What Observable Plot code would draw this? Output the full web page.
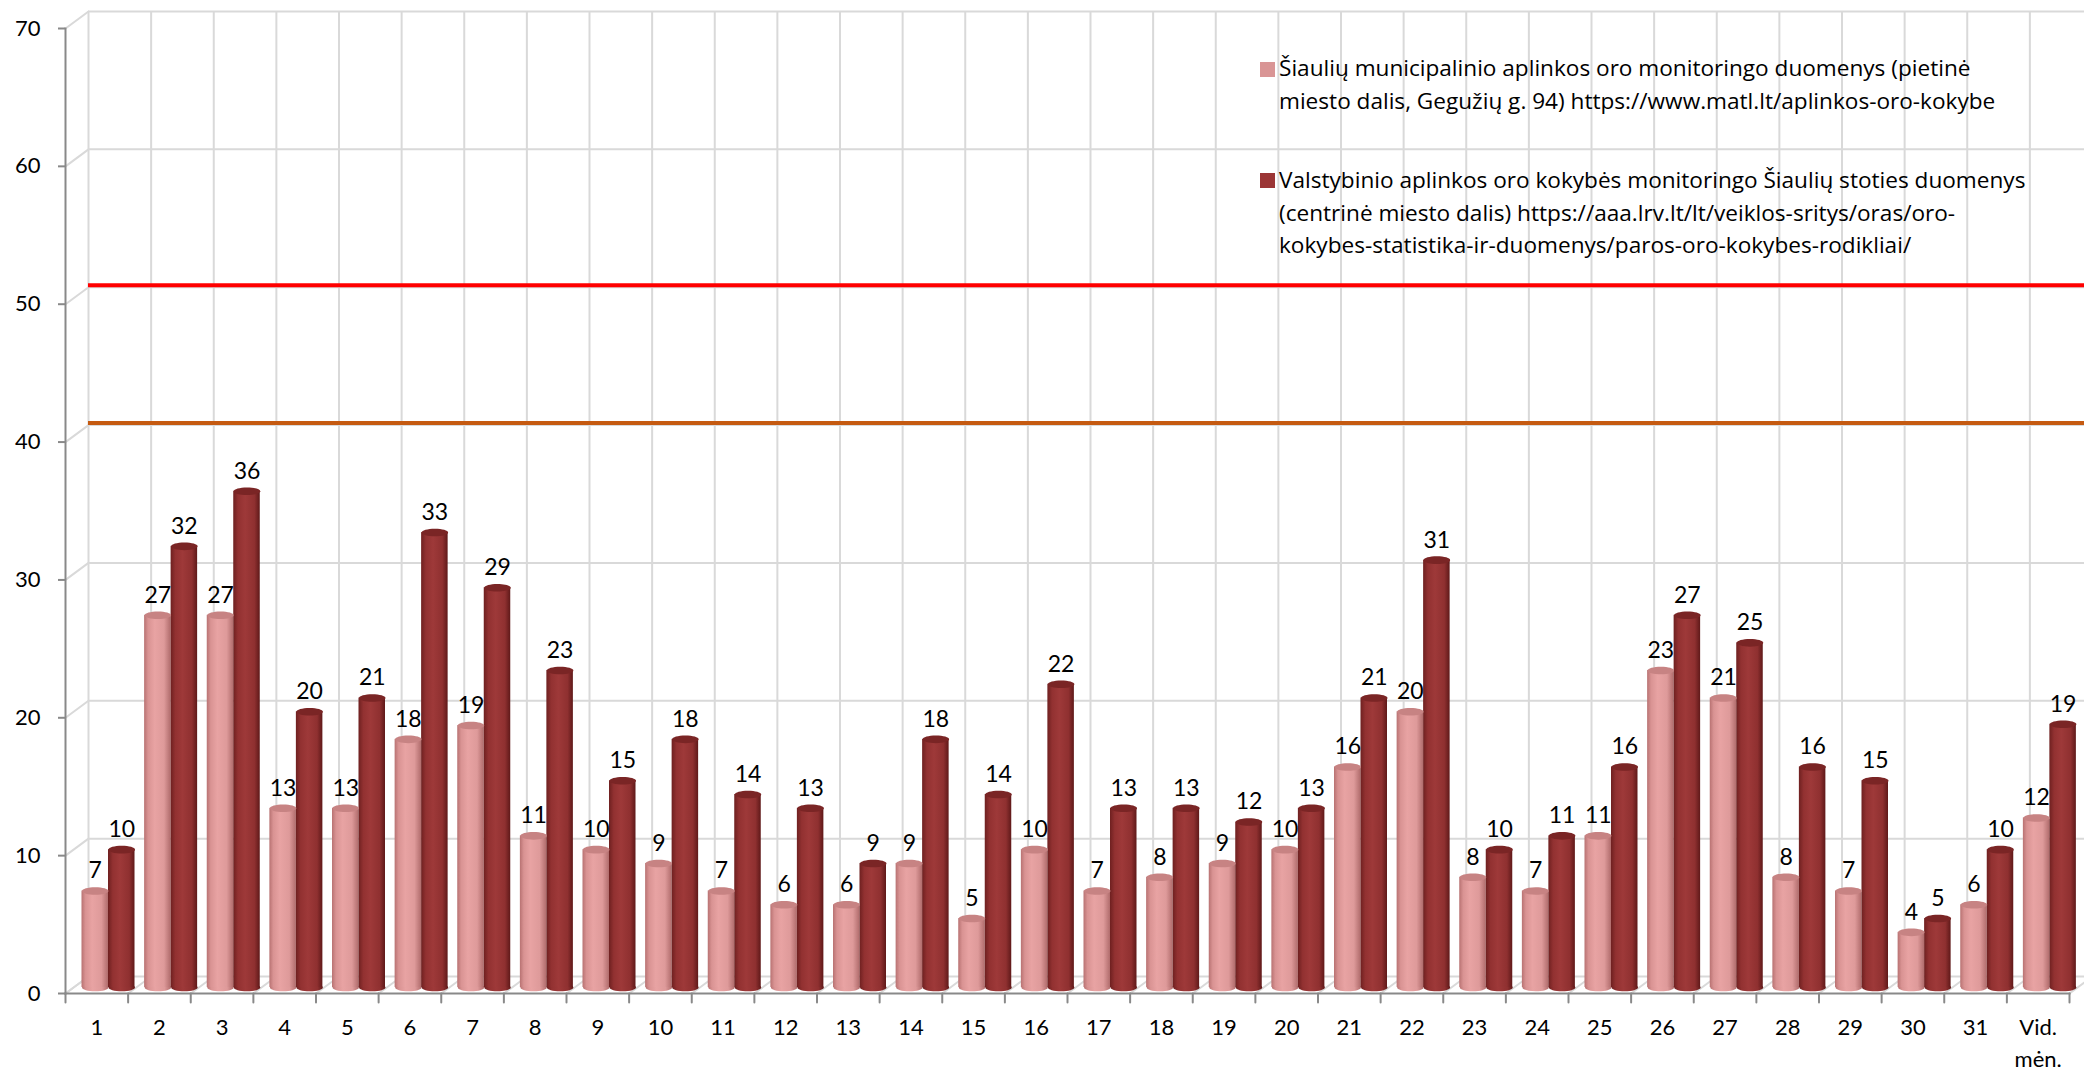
<!DOCTYPE html>
<html>
<head>
<meta charset="utf-8">
<script src="https://cdn.jsdelivr.net/npm/d3@7"></script>
<script src="https://cdn.jsdelivr.net/npm/@observablehq/plot@0.6"></script>
<style>
  html, body { margin: 0; padding: 0; background: #fff; overflow: hidden; }
  #wrap { position: relative; width: 2084px; height: 1072px; }
  .leg { position: absolute; font-family: "Open Sans", Lato, sans-serif; font-size: 22.6px; line-height: 32.5px; color: #000; white-space: nowrap; }
  .sw { position: absolute; width: 15px; height: 15px; }
</style>
</head>
<body>
<div id="wrap"></div>
<script>
// ---- data ----
const categories = ["1","2","3","4","5","6","7","8","9","10","11","12","13","14","15","16","17","18","19","20","21","22","23","24","25","26","27","28","29","30","31","Vid.\nmėn."];
const municipal = [7,27,27,13,13,18,19,11,10,9,7,6,6,9,5,10,7,8,9,10,16,20,8,7,11,23,21,8,7,4,6,12.3];
const state     = [10,32,36,20,21,33,29,23,15,18,14,13,9,18,14,22,13,13,12,13,21,31,10,11,16,27,25,16,15,5,10,19.1];
const yTicks = [0,10,20,30,40,50,60,70];
const limitRed = [50];
const limitOrange = [40];
const seriesNames = [
  "Šiaulių municipalinio aplinkos oro monitoringo duomenys (pietinė\nmiesto dalis, Gegužių g. 94) https://www.matl.lt/aplinkos-oro-kokybe",
  "Valstybinio aplinkos oro kokybės monitoringo Šiaulių stoties duomenys\n(centrinė miesto dalis) https://aaa.lrv.lt/lt/veiklos-sritys/oras/oro-\nkokybes-statistika-ir-duomenys/paros-oro-kokybes-rodikliai/"
];

const rows = categories.map((c, i) => ({cat: c, a: municipal[i], b: state[i]}));

// ---- layout ----
const W = 2084, H = 1072, ML = 65, MR = 15, MT = 28, MB = 79;
const BW = (W - ML - MR) / categories.length;
const DEPTH_X = 23, DEPTH_Y = -17;          // back wall offset
const LIFT = -6;                             // cylinders sit mid-depth
const BAR_W = 26.5, INSET_L = 16.5, INSET_R = BW - INSET_L - BAR_W;
const aDx = INSET_L + BAR_W / 2 - BW / 2;    // centre offset of first cylinder
const bDx = aDx + BAR_W;                      // centre offset of second cylinder
const DIAG_LEN = Math.hypot(DEPTH_X, DEPTH_Y);
const DIAG_ROT = Math.atan2(DEPTH_X, -DEPTH_Y) * 180 / Math.PI;

const lineShape = { draw(ctx, l) { ctx.moveTo(0, 0); ctx.lineTo(0, -l); } };
const K = 0.5523;
function ellipse(rx, ry) {
  return { draw(ctx) {
    ctx.moveTo(rx, 0);
    ctx.bezierCurveTo(rx, ry * K, rx * K, ry, 0, ry);
    ctx.bezierCurveTo(-rx * K, ry, -rx, ry * K, -rx, 0);
    ctx.bezierCurveTo(-rx, -ry * K, -rx * K, -ry, 0, -ry);
    ctx.bezierCurveTo(rx * K, -ry, rx, -ry * K, rx, 0);
    ctx.closePath();
  }};
}
const cap = ellipse(BAR_W / 2, 3.8);

const GRID = "#d9d9d9", AXIS = "#898989";
const lastCat = [categories[categories.length - 1]];

const chart = Plot.plot({
  width: W, height: H,
  marginLeft: ML, marginRight: MR, marginTop: MT, marginBottom: MB,
  x: {domain: categories, padding: 0, round: false, label: null},
  y: {domain: [0, 70], label: null},
  style: {fontFamily: "Lato, 'Open Sans', sans-serif", background: "white", overflow: "hidden"},
  marks: [
    // back wall horizontal gridlines
    Plot.ruleY(yTicks, {dx: DEPTH_X, dy: DEPTH_Y, stroke: GRID, strokeWidth: 2}),
    // back wall vertical gridlines (category boundaries)
    Plot.ruleX(categories, {dx: -BW / 2 + DEPTH_X, dy: DEPTH_Y, stroke: GRID, strokeWidth: 2}),
    Plot.ruleX(lastCat, {dx: BW / 2 + DEPTH_X, dy: DEPTH_Y, stroke: GRID, strokeWidth: 2}),
    // side wall diagonals
    Plot.vector(yTicks, {y: d => d, frameAnchor: "left", length: DIAG_LEN, rotate: DIAG_ROT, anchor: "start", shape: lineShape, stroke: GRID, strokeWidth: 2}),
    // floor diagonals
    Plot.vector(categories, {x: d => d, y: () => 0, dx: -BW / 2, length: DIAG_LEN, rotate: DIAG_ROT, anchor: "start", shape: lineShape, stroke: GRID, strokeWidth: 2}),
    Plot.vector(lastCat, {x: d => d, y: () => 0, dx: BW / 2, length: DIAG_LEN, rotate: DIAG_ROT, anchor: "start", shape: lineShape, stroke: GRID, strokeWidth: 2}),
    // limit lines on back wall
    Plot.ruleY(limitRed, {dx: DEPTH_X, dy: DEPTH_Y - 2, stroke: "#ff0000", strokeWidth: 4}),
    Plot.ruleY(limitOrange, {dx: DEPTH_X, dy: DEPTH_Y - 2, stroke: "#c55a11", strokeWidth: 4}),
    // axes
    Plot.frame({anchor: "left", stroke: AXIS, strokeWidth: 2}),
    Plot.frame({anchor: "bottom", stroke: AXIS, strokeWidth: 2}),
    Plot.axisY(yTicks, {tickSize: 7, tickPadding: 18, fontSize: 22, stroke: AXIS, strokeWidth: 2, fill: "black", label: null}),
    Plot.axisX({tickSize: 0, tickPadding: 19, fontSize: 22, fill: "black", lineHeight: 1.45, label: null}),
    Plot.vector(categories, {x: d => d, y: () => 0, dx: -BW / 2, length: 9, rotate: 180, anchor: "start", shape: lineShape, stroke: AXIS, strokeWidth: 2}),
    Plot.vector(lastCat, {x: d => d, y: () => 0, dx: BW / 2, length: 9, rotate: 180, anchor: "start", shape: lineShape, stroke: AXIS, strokeWidth: 2}),
    // cylinder bottoms
    Plot.dot(rows, {x: "cat", y: () => 0, dx: aDx, dy: LIFT, symbol: cap, fill: "url(#gA)", stroke: "none"}),
    Plot.dot(rows, {x: "cat", y: () => 0, dx: bDx, dy: LIFT, symbol: cap, fill: "url(#gB)", stroke: "none"}),
    // cylinder bodies
    Plot.barY(rows, {x: "cat", y: "a", insetLeft: INSET_L, insetRight: INSET_R, dy: LIFT, fill: "url(#gA)"}),
    Plot.barY(rows, {x: "cat", y: "b", insetLeft: INSET_L, insetRight: INSET_R, dx: BAR_W, dy: LIFT, fill: "url(#gB)"}),
    // cylinder tops
    Plot.dot(rows, {x: "cat", y: "a", dx: aDx, dy: LIFT, symbol: cap, fill: "#c78383", stroke: "none"}),
    Plot.dot(rows, {x: "cat", y: "b", dx: bDx, dy: LIFT, symbol: cap, fill: "#7a2525", stroke: "none"}),
    // value labels
    Plot.text(rows, {x: "cat", y: "a", text: d => Math.round(d.a), dx: aDx, dy: LIFT - 20, fontSize: 23, fill: "black"}),
    Plot.text(rows, {x: "cat", y: "b", text: d => Math.round(d.b), dx: bDx, dy: LIFT - 20, fontSize: 23, fill: "black"})
  ]
});

d3.select(chart).insert("defs", ":first-child").html(`
  <linearGradient id="gA" x1="0" x2="1" y1="0" y2="0">
    <stop offset="0" stop-color="#b87272"/>
    <stop offset="0.15" stop-color="#d99393"/>
    <stop offset="0.4" stop-color="#e8a3a3"/>
    <stop offset="0.75" stop-color="#de9a9a"/>
    <stop offset="1" stop-color="#b06c6c"/>
  </linearGradient>
  <linearGradient id="gB" x1="0" x2="1" y1="0" y2="0">
    <stop offset="0" stop-color="#6e2020"/>
    <stop offset="0.18" stop-color="#923131"/>
    <stop offset="0.45" stop-color="#9e3939"/>
    <stop offset="0.8" stop-color="#8f3030"/>
    <stop offset="1" stop-color="#5f1919"/>
  </linearGradient>`);

const wrap = document.getElementById("wrap");
wrap.appendChild(chart);

// legend overlaid in the plot area
const legendColors = ["#d99595", "#9b3535"];
const legendTops = [52, 164];
const swatchTops = [62, 173];
seriesNames.forEach((name, i) => {
  const sw = document.createElement("div");
  sw.className = "sw";
  sw.style.left = "1260px";
  sw.style.top = swatchTops[i] + "px";
  sw.style.background = legendColors[i];
  wrap.appendChild(sw);
  const t = document.createElement("div");
  t.className = "leg";
  t.style.left = "1279px";
  t.style.top = legendTops[i] + "px";
  t.innerHTML = name.split("\n").map(s => s.replace(/&/g, "&amp;")).join("<br>");
  wrap.appendChild(t);
});
</script>
</body>
</html>
